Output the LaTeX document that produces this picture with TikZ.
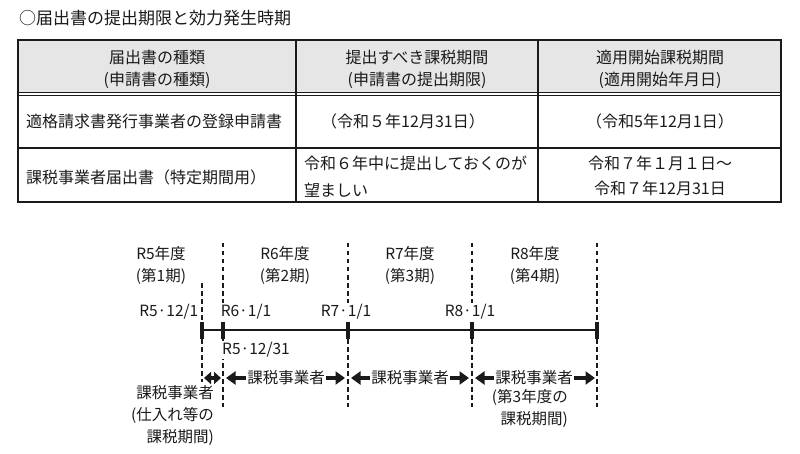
\documentclass[tikz,border=0pt]{standalone}
\usepackage{fontspec}
\setmainfont{Noto Sans CJK JP}
\usetikzlibrary{arrows.meta}
\definecolor{headgray}{HTML}{E6E6E6}
\definecolor{ink}{HTML}{1A1A1A}
\begin{document}
\begin{tikzpicture}
    [
    x=1pt,y=-1pt,
    every node/.style={inner sep=1pt,text=ink,font=\fontsize{16}{24}\selectfont},
    frame/.style={draw=ink,line width=1.8pt},
    rule/.style={draw=ink,line width=1.1pt},
    head/.style={align=center,font=\fontsize{16}{22}\selectfont},
    cell/.style={anchor=west,align=left,font=\fontsize{16}{27}\selectfont},
    mid/.style={align=center,font=\fontsize{16}{25}\selectfont},
    guide/.style={draw=ink,line width=1.6pt,dash pattern=on 4.5pt off 3.5pt},
    axis/.style={draw=ink,line width=2.8pt},
    tick/.style={draw=ink,line width=3.2pt},
    date/.style={fill=white,inner sep=1.5pt,font=\fontsize{15.5}{20}\selectfont},
    term/.style={align=center,font=\fontsize{15.5}{22}\selectfont},
    tax/.style={inner sep=1.5pt,font=\fontsize{15.5}{22}\selectfont},
    note/.style={align=right,anchor=east,font=\fontsize{15.5}{22}\selectfont},
    blockarrow/.style={draw=ink,line width=3.8pt,-{Triangle[length=9.5pt,width=13pt]}}
    ]
    \useasboundingbox (0,0) rectangle (800,454);
    \node (title) at (18,18) [anchor=west,font=\fontsize{17}{20}\selectfont] {○届出書の提出期限と効力発生時期};
    % table
    \fill [headgray] (18,40) rectangle (781,92.3);
    \draw [rule] (18,92.3) -- (781,92.3);
    \draw [rule] (18,95.7) -- (781,95.7);
    \draw [rule] (18,148) -- (781,148);
    \draw [frame] (296,40) -- (296,202);
    \draw [frame] (538,40) -- (538,202);
    \draw [frame] (18,40) rectangle (781,202);
    \node (h1) at (157,69) [head] {届出書の種類\\(申請書の種類)};
    \node (h2) at (417,69) [head] {提出すべき課税期間\\(申請書の提出期限)};
    \node (h3) at (660,69) [head] {適用開始課税期間\\(適用開始年月日)};
    \node (r1a) at (25,121) [cell] {適格請求書発行事業者の登録申請書};
    \node (r1b) at (403,121) [mid] {（令和５年12月31日）};
    \node (r1c) at (660,121) [mid] {（令和5年12月1日）};
    \node (r2a) at (25,177) [cell] {課税事業者届出書（特定期間用）};
    \node (r2b) at (303,176.5) [cell] {令和６年中に提出しておくのが\\望ましい};
    \node (r2c) at (660,176) [mid] {令和７年１月１日～\\令和７年12月31日};
    % timeline
    \coordinate (t0) at (202,330);
    \coordinate (t1) at (223,330);
    \coordinate (t2) at (348,330);
    \coordinate (t3) at (472,330);
    \coordinate (t4) at (597,330);
    \draw [guide] ([yshift=47pt]t0) -- ([yshift=-52pt]t0);
    \foreach \t in {t1,t2,t3,t4}
      \draw [guide] ([yshift=87pt]\t) -- ([yshift=-77pt]\t);
    \draw [axis] (t0) -- (t4);
    \foreach \t in {t0,t1,t2,t3,t4}
      \draw [tick] ([yshift=8.5pt]\t) -- ([yshift=-8.5pt]\t);
    \node (y1) at (161,265) [term] {R5年度\\(第1期)};
    \node (y2) at (285,265) [term] {R6年度\\(第2期)};
    \node (y3) at (410,265) [term] {R7年度\\(第3期)};
    \node (y4) at (535,265) [term] {R8年度\\(第4期)};
    \node (d0) at (200,312) [date,fill=none,anchor=east] {R5·12/1};
    \node (d1) at (246,312) [date] {R6·1/1};
    \node (d2) at (346,312) [date] {R7·1/1};
    \node (d3) at (470,312) [date] {R8·1/1};
    \node (d4) at (256,350) [date] {R5·12/31};
    % taxable periods
    \coordinate (s0) at (204,378);
    \coordinate (s1) at (221,378);
    \coordinate (e1) at (226,378);
    \coordinate (w2) at (345,378);
    \coordinate (e2) at (351,378);
    \coordinate (w3) at (469,378);
    \coordinate (e3) at (475,378);
    \coordinate (w4) at (595,378);
    \node (k2) at (286,378) [tax] {課税事業者};
    \node (k3) at (410,378) [tax] {課税事業者};
    \node (k4) at (534,378) [tax] {課税事業者};
    \node (n1) at (215,415) [note] {課税事業者\\(仕入れ等の\\課税期間)};
    \node (n4) at (569,408.5) [note] {(第3年度の\\課税期間)};
    \draw [blockarrow,{Triangle[length=7pt,width=12pt]}-{Triangle[length=7pt,width=12pt]}] (s0) -- (s1);
    \draw [blockarrow] (k2) -- (e1);
    \draw [blockarrow] (k2) -- (w2);
    \draw [blockarrow] (k3) -- (e2);
    \draw [blockarrow] (k3) -- (w3);
    \draw [blockarrow] (k4) -- (e3);
    \draw [blockarrow] (k4) -- (w4);
  \end{tikzpicture}
\end{document}
